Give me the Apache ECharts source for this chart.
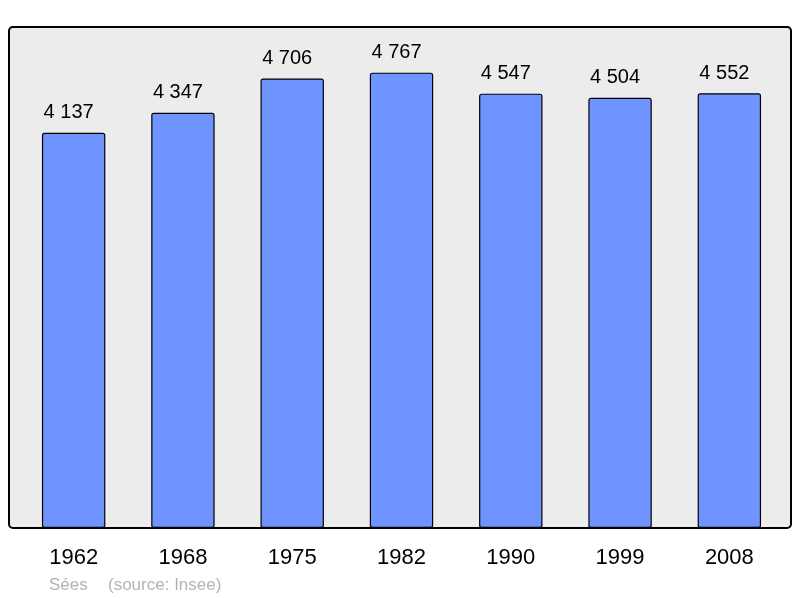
<!DOCTYPE html>
<html><head><meta charset="utf-8">
<script src="https://cdn.jsdelivr.net/npm/echarts@6/dist/echarts.min.js"></script>
<style>html,body{margin:0;padding:0;background:#fff}#c{width:800px;height:598px}</style>
</head><body><div id="c"></div>
<script>
var years = ['1962','1968','1975','1982','1990','1999','2008'];
var population = [4137, 4347, 4706, 4767, 4547, 4504, 4552];
var town = 'Sées';
var source = '(source: Insee)';

function fmt(v){ return String(v).replace(/\B(?=(\d{3})+(?!\d))/g, ' '); }
var FF = 'Liberation Sans, Arial, sans-serif';

var chart = echarts.init(document.getElementById('c'), null, {renderer:'canvas'});
chart.setOption({
  backgroundColor: '#ffffff',
  animation: false,
  textStyle: {fontFamily: FF},
  graphic: [
    {type:'rect', z:-10, shape:{x:9, y:27, width:782, height:501, r:4},
     style:{fill:'#ececec', stroke:'#000', lineWidth:2}},
    {type:'text', left:49, top:577, style:{text:town, fill:'#b3b3b3', fontSize:17, fontFamily:FF}},
    {type:'text', left:108, top:577, style:{text:source, fill:'#b3b3b3', fontSize:17, fontFamily:FF}}
  ],
  grid: {left:19, right:16, top:27, bottom:70, containLabel:false},
  xAxis: {
    type:'category', data: years,
    axisLine:{show:false}, axisTick:{show:false},
    axisLabel:{color:'#000', fontSize:22, margin:19, fontFamily:FF}
  },
  yAxis: {
    type:'value', min:0, max:5245, show:false, splitLine:{show:false}
  },
  series: [{
    type:'bar', data: population, barWidth:'58%',
    itemStyle:{color:'#7094ff', borderColor:'#000', borderWidth:1.2, borderRadius:2},
    label:{show:true, position:'top', distance:10, offset:[-5,0], color:'#000', fontSize:20,
      fontFamily:FF,
      formatter:function(p){return fmt(p.value);}}
  }]
});
</script></body></html>
